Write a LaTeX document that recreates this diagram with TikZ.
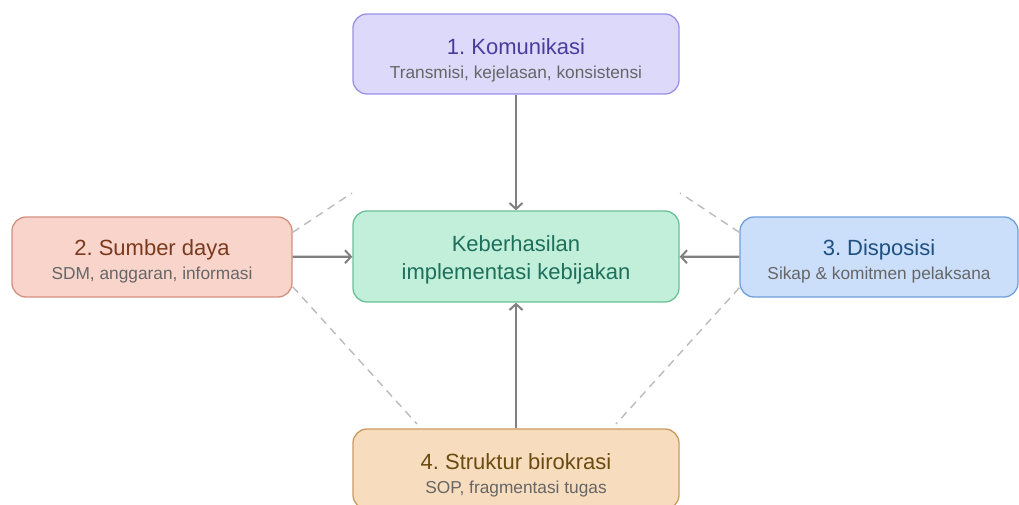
\documentclass[tikz,border=0pt]{standalone}
\usepackage{fontspec}
\setmainfont{Liberation Sans}
\usepackage{xcolor}
\usetikzlibrary{arrows.meta}
\frenchspacing

\definecolor{komfill}{HTML}{DCD9FB}
\definecolor{komline}{HTML}{9A90E6}
\definecolor{komtext}{HTML}{4A3C9C}
\definecolor{sdfill}{HTML}{F8D4CB}
\definecolor{sdline}{HTML}{D4907F}
\definecolor{sdtext}{HTML}{7B3A1E}
\definecolor{dispfill}{HTML}{CBDFFA}
\definecolor{displine}{HTML}{6F9FDC}
\definecolor{disptext}{HTML}{1F5080}
\definecolor{strfill}{HTML}{F7DCBE}
\definecolor{strline}{HTML}{C99A60}
\definecolor{strtext}{HTML}{6A4B10}
\definecolor{hasfill}{HTML}{C1EFD9}
\definecolor{hasline}{HTML}{6BBF97}
\definecolor{hastext}{HTML}{1E6F5C}
\definecolor{subgray}{HTML}{666666}
\definecolor{arrgray}{HTML}{808080}
\definecolor{dashgray}{HTML}{BBBBBB}

\newcommand{\ttl}{\fontsize{22}{24}\selectfont}
\newcommand{\sbt}{\fontsize{17.3}{24}\selectfont\color{subgray}}
\newcommand{\lift}[1]{\rule{0pt}{#1}}

\begin{document}
\begin{tikzpicture}[x=1pt,y=-1pt,
		factor/.style = {rounded corners=14pt,line width=1.3pt,align=center,inner sep=0pt,minimum height=80pt,font=\ttl},
		link/.style = {->,arrgray,line width=2.2pt},
		guide/.style = {dashgray,line width=1.4pt,dash pattern=on 8pt off 6pt}]
		\tikzset{> = {Straight Barb[length=6pt,width=13pt,line width=2pt]}}
		\useasboundingbox (0,0) rectangle (1019,504);
		\node[factor,fill=komfill,draw=komline,minimum width=326pt,text=komtext] (kom) at (516,54)
			{\lift{28pt}1. Komunikasi\\\sbt Transmisi, kejelasan, konsistensi};
		\node[factor,fill=sdfill,draw=sdline,minimum width=280pt,text=sdtext] (sd) at (152,257)
			{\lift{25pt}2. Sumber daya\\\sbt SDM, anggaran, informasi};
		\node[factor,fill=dispfill,draw=displine,minimum width=278pt,text=disptext] (disp) at (879,257)
			{\lift{25pt}3. Disposisi\\\sbt Sikap \& komitmen pelaksana};
		\node[factor,fill=strfill,draw=strline,minimum width=326pt,text=strtext] (str) at (516,469)
			{\lift{28pt}4. Struktur birokrasi\\\sbt SOP, fragmentasi tugas};
		\node[factor,fill=hasfill,draw=hasline,minimum width=326pt,minimum height=91pt,text=hastext,
			font=\fontsize{22}{28}\selectfont] (has) at (516,256.5)
			{\lift{22pt}Keberhasilan\\implementasi kebijakan};
		\coordinate (ul) at (352,193);
		\coordinate (ur) at (680,193);
		\coordinate (ll) at (417,424);
		\coordinate (lr) at (616,424);
		\draw[guide] ([yshift=-16pt]sd.north east) -- (ul);
		\draw[guide] ([yshift=-16pt]disp.north west) -- (ur);
		\draw[guide] ([yshift=11pt]sd.south east) -- (ll);
		\draw[guide] ([yshift=10pt]disp.south west) -- (lr);
		\draw[link] (kom) -- (has);
		\draw[link] (sd) -- (has);
		\draw[link] (disp) -- (has);
		\draw[link] (str) -- (has);
	\end{tikzpicture}
\end{document}
